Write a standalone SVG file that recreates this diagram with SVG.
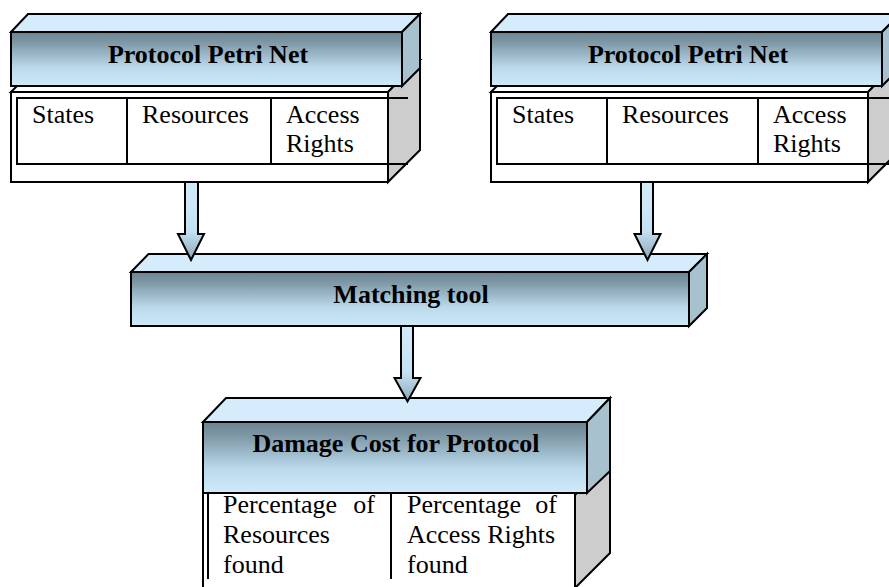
<svg xmlns="http://www.w3.org/2000/svg" width="889" height="587" viewBox="0 0 889 587">
  <defs>
    <linearGradient id="faceGrad" x1="0" y1="0" x2="0" y2="1">
      <stop offset="0" stop-color="#6c8491"/>
      <stop offset="0.2" stop-color="#7f98a6"/>
      <stop offset="0.65" stop-color="#b9d9eb"/>
      <stop offset="1" stop-color="#cfeafa"/>
    </linearGradient>
    <linearGradient id="arrowGrad" x1="0" y1="0" x2="0" y2="1">
      <stop offset="0" stop-color="#d2ebfa"/>
      <stop offset="0.62" stop-color="#c4e2f5"/>
      <stop offset="1" stop-color="#8ca6b5"/>
    </linearGradient>
    <style>
      .edge { stroke: #000; stroke-width: 2; stroke-linejoin: miter; }
      .top { fill: #d4ecfb; }
      .front { fill: url(#faceGrad); }
      .side { fill: #a8c1cf; }
      .grey { fill: #cdcdcd; }
      .white { fill: #ffffff; }
      .line { stroke: #000; stroke-width: 2; fill: none; }
      .arrow { fill: url(#arrowGrad); stroke: #000; stroke-width: 2; stroke-linejoin: miter; }
      .title { font-family: "Liberation Serif", "Times New Roman", serif; font-size: 26px; font-weight: bold; fill: #000; text-anchor: middle; }
      .label { font-family: "Liberation Serif", "Times New Roman", serif; font-size: 26px; fill: #000; }
    </style>
  </defs>

  <!-- Left protocol Petri net block -->
  <g id="petri-net-left">
    <polygon class="white edge" points="11,92 43,60 420,60 388,92"/>
    <polygon class="grey edge" points="388,92 420,60 420,150 388,182"/>
    <rect class="white edge" x="11" y="92" width="377" height="90"/>
    <polyline class="line" points="408,98 17,98 17,164 408,164"/>
    <line class="line" x1="127" y1="98" x2="127" y2="164"/>
    <line class="line" x1="271" y1="98" x2="271" y2="164"/>
    <text class="label" x="32" y="123">States</text>
    <text class="label" x="142" y="123">Resources</text>
    <text class="label" x="286" y="123">Access</text>
    <text class="label" x="286" y="152">Rights</text>
    <polygon class="top edge" points="11,32 28,14 420,14 402,32"/>
    <polygon class="side edge" points="402,32 420,14 420,68 402,86"/>
    <rect class="front edge" x="11" y="32" width="391" height="54"/>
    <text class="title" x="208" y="63">Protocol Petri Net</text>
  </g>

  <!-- Right protocol Petri net block -->
  <g id="petri-net-right">
    <polygon class="white edge" points="491,92 523,60 900,60 868,92"/>
    <polygon class="grey edge" points="868,92 900,60 900,150 868,182"/>
    <rect class="white edge" x="491" y="92" width="377" height="90"/>
    <polyline class="line" points="895,98 497,98 497,164 895,164"/>
    <line class="line" x1="607" y1="98" x2="607" y2="164"/>
    <line class="line" x1="758" y1="98" x2="758" y2="164"/>
    <text class="label" x="512" y="123">States</text>
    <text class="label" x="622" y="123">Resources</text>
    <text class="label" x="773" y="123">Access</text>
    <text class="label" x="773" y="152">Rights</text>
    <polygon class="top edge" points="491,32 508,14 900,14 882,32"/>
    <polygon class="side edge" points="882,32 900,14 900,68 882,86"/>
    <rect class="front edge" x="491" y="32" width="391" height="54"/>
    <text class="title" x="688" y="63">Protocol Petri Net</text>
  </g>

  <!-- Matching tool -->
  <g id="matching-tool">
    <polygon class="top edge" points="131,272 148.5,254 707,254 689,272"/>
    <polygon class="side edge" points="689,272 707,254 707,308 689,326"/>
    <rect class="front edge" x="131" y="272" width="558" height="54"/>
    <text class="title" x="411" y="303">Matching tool</text>
  </g>

  <!-- Damage cost result -->
  <g id="damage-cost">
    <polygon class="grey edge" points="575,495 610,460 610,553 575,588"/>
    <rect class="white edge" x="203" y="493" width="372" height="110"/>
    <line class="line" x1="208" y1="493" x2="208" y2="579"/>
    <line class="line" x1="391" y1="493" x2="391" y2="579"/>
    <text class="label" x="223" y="513">Percentage</text>
    <text class="label" x="375" y="513" text-anchor="end">of</text>
    <text class="label" x="223" y="543">Resources</text>
    <text class="label" x="223" y="573">found</text>
    <text class="label" x="407" y="513">Percentage</text>
    <text class="label" x="557" y="513" text-anchor="end">of</text>
    <text class="label" x="407" y="543">Access Rights</text>
    <text class="label" x="407" y="573">found</text>
    <polygon class="top edge" points="203,422 226,398 610,398 587,422"/>
    <polygon class="side edge" points="587,422 610,398 610,471 587,493"/>
    <rect class="front edge" x="203" y="422" width="384" height="71"/>
    <text class="title" x="396" y="452">Damage Cost for Protocol</text>
  </g>

  <!-- Block arrows between stages -->
  <g id="connectors">
    <polygon class="arrow" points="185,182 198,182 198,234 204,234 191,260 178,234 185,234"/>
    <polygon class="arrow" points="641,182 653,182 653,234 660.5,234 647.5,260 634.5,234 641,234"/>
    <polygon class="arrow" points="401,326 413,326 413,378 420.5,378 407.5,401.5 394.5,378 401,378"/>
  </g>
</svg>
